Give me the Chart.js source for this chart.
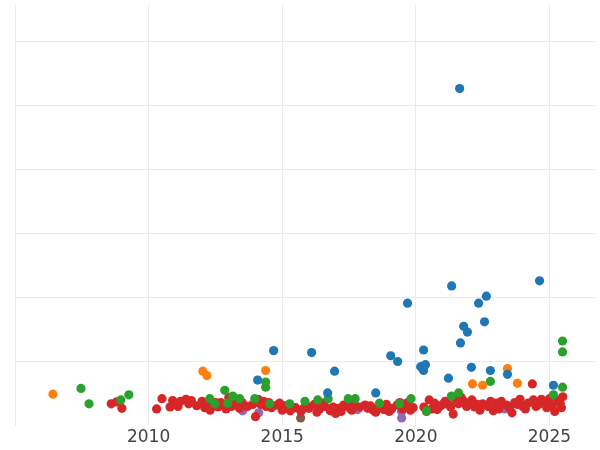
<!DOCTYPE html>
<html>
<head>
<script src="https://cdn.jsdelivr.net/npm/chart.js@4"></script>
<style>
  html, body { margin: 0; padding: 0; background: #fff; }
  #wrap { width: 600px; height: 450px; }
</style>
</head>
<body>
<div id="wrap"><canvas id="chart"></canvas></div>
<script>
const blue = [[2014.68,1.17],[2016.10,1.14],[2014.08,0.71],[2016.96,0.85],[2016.70,0.51],[2018.50,0.51],
  [2019.06,1.09],[2019.32,1.00],[2019.69,1.91],[2020.18,0.92],[2020.29,1.18],[2020.29,0.86],[2020.36,0.95],
  [2021.22,0.74],[2021.34,2.18],[2021.64,5.26],[2021.67,1.29],[2021.79,1.55],[2021.93,1.46],[2022.08,0.91],
  [2022.35,1.91],[2022.57,1.62],[2022.64,2.02],[2022.79,0.86],[2023.43,0.80],[2024.63,2.26],[2025.15,0.63]];
const orange = [[2006.42,0.49],[2012.03,0.85],[2012.18,0.78],[2014.38,0.86],[2022.12,0.65],[2022.50,0.63],
  [2023.43,0.89],[2023.80,0.66]];
const green = [[2007.47,0.58],[2007.77,0.34],[2008.96,0.40],[2009.26,0.48],[2012.85,0.55],[2013.15,0.46],
  [2013.41,0.42],[2014.38,0.68],[2014.38,0.60],[2025.49,1.32],[2025.49,1.15],[2025.49,0.60],[2022.79,0.69],
  [2025.15,0.48],[2016.72,0.42],[2017.47,0.42],[2017.73,0.42],[2019.82,0.42],[2021.33,0.46],[2021.60,0.51],
  [2015.28,0.34],[2016.33,0.40],[2014.53,0.34],[2015.85,0.38],[2018.64,0.35],[2019.39,0.34],[2012.96,0.35],
  [2012.29,0.42],[2012.48,0.34],[2013.97,0.42],[2020.40,0.23]];
const red = [[2008.6,0.34],[2008.8,0.37],[2009.0,0.27],[2010.3,0.26],[2010.5,0.42],[2010.8,0.29],[2010.9,0.39],
  [2011.1,0.30],[2011.2,0.38],[2011.4,0.41],[2011.5,0.34],[2011.6,0.39],[2012.0,0.38],[2012.1,0.28],[2012.2,0.33],
  [2012.3,0.24],[2012.4,0.31],[2012.5,0.36],[2012.7,0.36],[2012.9,0.26],[2013.0,0.44],[2013.1,0.30],[2013.2,0.37],
  [2013.3,0.33],[2013.5,0.36],[2013.7,0.30],[2013.9,0.33],[2014.0,0.14],[2014.1,0.41],[2014.2,0.33],[2014.3,0.38],
  [2014.4,0.30],[2014.6,0.28],[2014.8,0.32],[2014.9,0.35],[2015.0,0.24],[2015.2,0.30],[2015.3,0.23],[2015.5,0.28],
  [2015.7,0.22],[2015.9,0.31],[2016.0,0.27],[2016.2,0.33],[2016.4,0.26],[2016.6,0.30],[2016.8,0.23],[2016.9,0.29],
  [2017.0,0.19],[2017.1,0.27],[2017.3,0.32],[2017.5,0.28],[2017.7,0.33],[2017.9,0.29],[2018.1,0.32],[2018.3,0.31],
  [2018.4,0.24],[2018.6,0.30],[2018.8,0.25],[2018.9,0.33],[2019.1,0.27],[2019.3,0.32],[2019.5,0.26],[2019.6,0.31],
  [2019.8,0.24],[2019.9,0.28],[2020.3,0.29],[2020.5,0.40],[2020.6,0.26],[2020.7,0.35],[2020.9,0.30],[2021.0,0.33],
  [2021.1,0.38],[2021.3,0.29],[2021.4,0.18],[2021.5,0.40],[2021.6,0.34],[2021.7,0.44],[2021.9,0.30],[2022.0,0.35],
  [2022.2,0.29],[2022.4,0.24],[2022.5,0.34],[2022.7,0.30],[2022.9,0.23],[2023.0,0.35],[2023.2,0.38],[2023.4,0.32],
  [2023.6,0.20],[2023.8,0.33],[2023.9,0.41],[2024.0,0.30],[2024.2,0.35],[2024.36,0.65],[2024.4,0.40],[2024.6,0.33],
  [2024.8,0.37],[2024.9,0.28],[2025.0,0.42],[2025.1,0.30],[2025.2,0.22],[2025.4,0.35],[2025.5,0.45],[2025.3,0.40],
  [2012.6,0.29],[2013.4,0.27],[2016.5,0.35],[2019.7,0.36],[2021.8,0.38],[2022.1,0.40],[2023.5,0.28],[2024.5,0.30],
  [2011.0,0.33],[2011.8,0.31],[2014.5,0.36],[2015.1,0.31],[2015.8,0.27],[2016.3,0.21],[2017.2,0.22],[2017.6,0.24],
  [2018.2,0.27],[2018.5,0.21],[2019.0,0.22],[2019.4,0.36],[2020.4,0.22],[2020.8,0.25],[2021.2,0.34],[2022.3,0.33],
  [2022.8,0.38],[2023.1,0.26],[2023.7,0.36],[2024.1,0.26],[2024.7,0.41],[2025.45,0.28]];
const purple = [[2013.52,0.23],[2014.12,0.20],[2017.82,0.25],[2019.09,0.25],[2019.47,0.22],[2019.47,0.12],[2023.32,0.26]];
const brown = [[2015.69,0.12]];
const xTicks = [2005, 2010, 2015, 2020, 2025];
const yTicks = [1, 2, 3, 4, 5, 6];

function toPts(arr) { return arr.map(p => ({ x: p[0], y: p[1] })); }
function ds(arr, color) {
  return { data: toPts(arr), backgroundColor: color, borderWidth: 0, pointRadius: 4.6, pointHoverRadius: 4.6 };
}

new Chart(document.getElementById("chart"), {
  type: "scatter",
  data: {
    datasets: [
      ds(blue, "#1f77b4"), ds(orange, "#ff7f0e"), ds(green, "#2ca02c"),
      ds(red, "#d62728"), ds(purple, "#9467bd"), ds(brown, "#8c564b")
    ]
  },
  options: {
    responsive: true,
    maintainAspectRatio: false,
    animation: false,
    layout: { padding: { left: 15, top: 0, right: 0, bottom: 0 } },
    plugins: { legend: { display: false }, tooltip: { enabled: false } },
    scales: {
      x: {
        type: "linear", min: 2005, max: 2026.72,
        afterBuildTicks: s => { s.ticks = xTicks.map(v => ({ value: v })); },
        grid: { color: "#ebebeb", drawTicks: false },
        border: { display: false },
        ticks: {
          padding: 2, color: "#444", font: { family: "DejaVu Sans", size: 17 },
          autoSkip: false, maxRotation: 0,
          callback: v => (v === 2005 ? "" : v)
        }
      },
      y: {
        min: 0, max: 6.57,
        afterBuildTicks: s => { s.ticks = yTicks.map(v => ({ value: v })); },
        grid: { color: "#ebebeb", drawTicks: false },
        border: { display: false },
        ticks: { display: false }
      }
    }
  }
});
</script>
</body>
</html>
